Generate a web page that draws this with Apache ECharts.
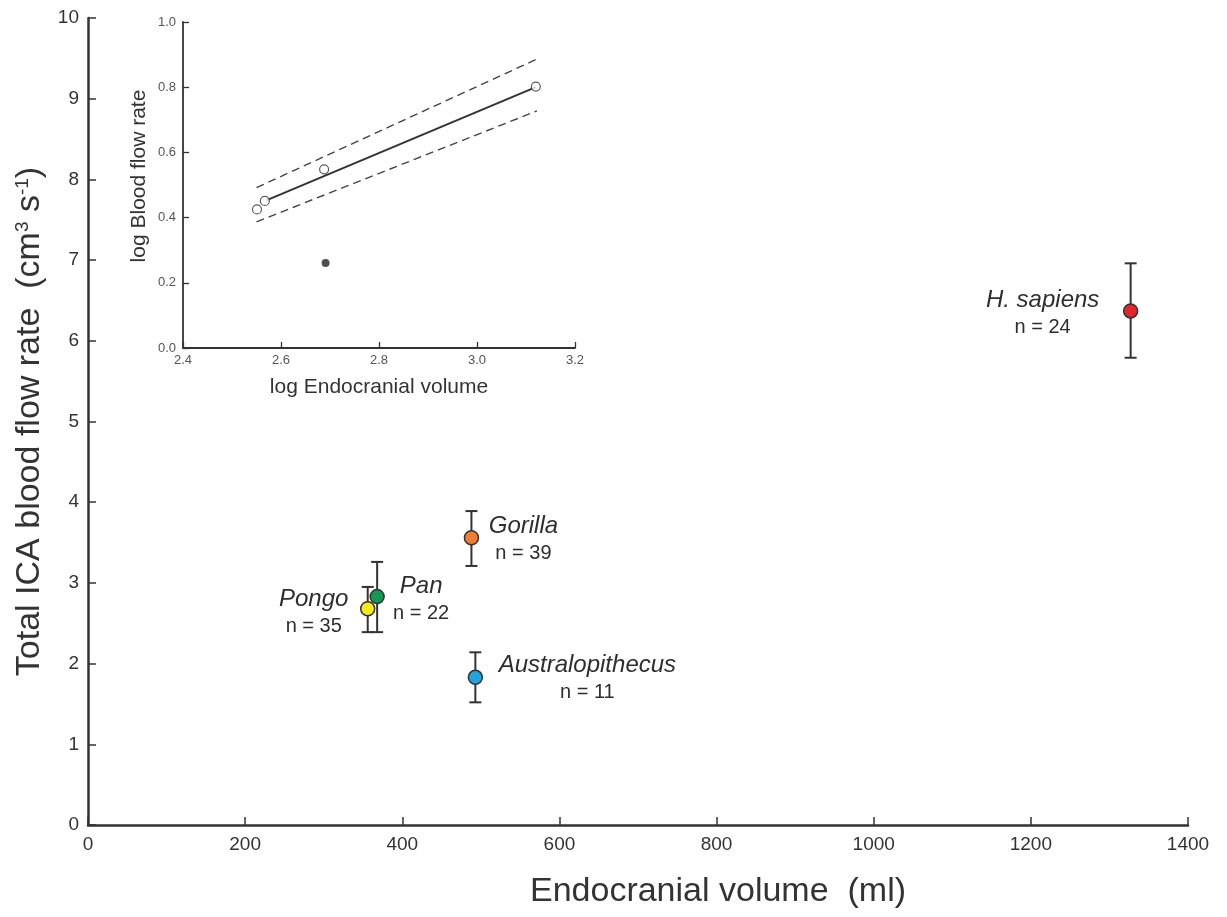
<!DOCTYPE html>
<html lang="en">
<head>
    <meta charset="UTF-8">
    <title>ICA blood flow vs endocranial volume</title>
    <script src="https://cdn.jsdelivr.net/npm/echarts@6/dist/echarts.min.js"></script>
    <style>
        body, html {
            margin: 0;
            padding: 0;
            background: #fff;
        }
        #chart {
            width: 1227px;
            height: 917px;
        }
    </style>
</head>
<body>
<div id="chart"></div>
<script>
    // main panel: species means with error bars
    const species = ['H. sapiens', 'Gorilla', 'Pan', 'Pongo', 'Australopithecus'];
    const sampleN = [24, 39, 22, 35, 11];
    const volume = [1327, 488, 368, 356, 493];
    const flowMean = [6.37, 3.56, 2.83, 2.68, 1.83];
    const flowLow = [5.79, 3.21, 2.39, 2.39, 1.52];
    const flowHigh = [6.96, 3.89, 3.26, 2.95, 2.14];
    const speciesColors = ['#e3262b', '#f07f33', '#119a50', '#f4ea1c', '#21a3de'];
    const labelOffsets = [[-88, 3], [52, 2], [44, 3], [-54, 4], [112, 2]];

    // inset: log-log regression
    const logVolOpen = [2.551, 2.567, 2.688, 3.120];
    const logFlowOpen = [0.425, 0.451, 0.548, 0.802];
    const logVolFilled = [2.691];
    const logFlowFilled = [0.261];
    const fitX = [2.57, 3.12];
    const fitY = [0.453, 0.800];
    const upperX = [2.55, 3.122];
    const upperY = [0.492, 0.886];
    const lowerX = [2.55, 3.122];
    const lowerY = [0.387, 0.727];

    const ink = '#333';
    const sans = '"Liberation Sans", Arial, sans-serif';

    const pairs = (xs, ys) => xs.map((x, i) => [x, ys[i]]);

    const chart = echarts.init(document.getElementById('chart'));
    const option = {
        animation: false,
        backgroundColor: '#fff',
        grid: [
            {left: 88, right: 39, top: 18, bottom: 92},
            {left: 183, top: 22, width: 392, height: 326}
        ],
        xAxis: [
            {
                gridIndex: 0, type: 'value', min: 0, max: 1400, interval: 200,
                name: 'Endocranial volume  (ml)', nameLocation: 'middle', nameGap: 50,
                nameTextStyle: {fontFamily: sans, fontSize: 34, color: ink, padding: [0, 0, 0, 160]},
                axisLine: {show: true, onZero: false, lineStyle: {color: ink, width: 2.5}},
                axisTick: {show: true, inside: true, length: 8, lineStyle: {color: ink, width: 1.5}},
                axisLabel: {fontFamily: sans, fontSize: 19, color: ink, margin: 10, formatter: v => String(v)},
                splitLine: {show: false}
            },
            {
                gridIndex: 1, type: 'value', min: 2.4, max: 3.2, interval: 0.2,
                name: 'log Endocranial volume', nameLocation: 'middle', nameGap: 29,
                nameTextStyle: {fontFamily: sans, fontSize: 21, color: ink},
                axisLine: {show: true, onZero: false, lineStyle: {color: ink, width: 1.8}},
                axisTick: {show: true, inside: true, length: 6, lineStyle: {color: ink, width: 1.3}},
                axisLabel: {fontFamily: sans, fontSize: 13, color: '#555', margin: 6,
                    formatter: v => v.toFixed(1)},
                splitLine: {show: false}
            }
        ],
        yAxis: [
            {
                gridIndex: 0, type: 'value', min: 0, max: 10, interval: 1,
                name: 'Total ICA blood flow rate  (cm{sup|3} s{sup|-1})', nameLocation: 'middle', nameGap: 41,
                nameTextStyle: {
                    fontFamily: sans, fontSize: 34, color: ink,
                    rich: {sup: {fontFamily: sans, fontSize: 19, color: ink, verticalAlign: 'top', padding: [0, 0, 14, 0]}}
                },
                axisLine: {show: true, onZero: false, lineStyle: {color: ink, width: 2.5}},
                axisTick: {show: true, inside: true, length: 8, lineStyle: {color: ink, width: 1.5}},
                axisLabel: {fontFamily: sans, fontSize: 19, color: ink, margin: 9},
                splitLine: {show: false}
            },
            {
                gridIndex: 1, type: 'value', min: 0, max: 1, interval: 0.2,
                name: 'log Blood flow rate', nameLocation: 'middle', nameGap: 33,
                nameTextStyle: {fontFamily: sans, fontSize: 21, color: ink, padding: [0, 0, 0, 18]},
                axisLine: {show: true, onZero: false, lineStyle: {color: ink, width: 1.8}},
                axisTick: {show: true, inside: true, length: 6, lineStyle: {color: ink, width: 1.3}},
                axisLabel: {fontFamily: sans, fontSize: 13, color: '#555', margin: 7,
                    formatter: v => v.toFixed(1)},
                splitLine: {show: false}
            }
        ],
        series: [
            {
                // error bars
                type: 'custom',
                xAxisIndex: 0, yAxisIndex: 0,
                data: volume.map((v, i) => [v, flowLow[i], flowHigh[i]]),
                renderItem: (params, api) => {
                    const lo = api.coord([api.value(0), api.value(1)]);
                    const hi = api.coord([api.value(0), api.value(2)]);
                    const cap = 6;
                    const style = {stroke: ink, lineWidth: 2};
                    return {
                        type: 'group',
                        children: [
                            {type: 'line', shape: {x1: lo[0], y1: lo[1], x2: hi[0], y2: hi[1]}, style},
                            {type: 'line', shape: {x1: lo[0] - cap, y1: lo[1], x2: lo[0] + cap, y2: lo[1]}, style},
                            {type: 'line', shape: {x1: hi[0] - cap, y1: hi[1], x2: hi[0] + cap, y2: hi[1]}, style}
                        ]
                    };
                },
                z: 2
            },
            {
                type: 'scatter',
                xAxisIndex: 0, yAxisIndex: 0,
                symbol: 'circle', symbolSize: 14,
                emphasis: {disabled: true},
                data: volume.map((v, i) => ({
                    value: [v, flowMean[i]],
                    itemStyle: {color: speciesColors[i], borderColor: ink, borderWidth: 1.5, opacity: 1},
                    label: {
                        show: true, position: 'inside', offset: labelOffsets[i],
                        align: 'center', verticalAlign: 'middle', color: '#2e2e2e',
                        formatter: `{sp|${species[i]}}\n{n|n = ${sampleN[i]}}`,
                        rich: {
                            sp: {fontFamily: sans, fontStyle: 'italic', fontSize: 24, color: '#2e2e2e', lineHeight: 27, align: 'center'},
                            n: {fontFamily: sans, fontSize: 20, color: '#2e2e2e', lineHeight: 27, align: 'center'}
                        }
                    }
                })),
                z: 3
            },
            {
                type: 'line', xAxisIndex: 1, yAxisIndex: 1,
                data: pairs(fitX, fitY), showSymbol: false,
                lineStyle: {color: ink, width: 2}
            },
            {
                type: 'line', xAxisIndex: 1, yAxisIndex: 1,
                data: pairs(upperX, upperY), showSymbol: false,
                lineStyle: {color: '#444', width: 1.4, type: [8, 5]}
            },
            {
                type: 'line', xAxisIndex: 1, yAxisIndex: 1,
                data: pairs(lowerX, lowerY), showSymbol: false,
                lineStyle: {color: '#444', width: 1.4, type: [8, 5]}
            },
            {
                type: 'scatter', xAxisIndex: 1, yAxisIndex: 1,
                data: pairs(logVolOpen, logFlowOpen),
                symbol: 'circle', symbolSize: 9,
                itemStyle: {color: '#fff', borderColor: ink, borderWidth: 1.2},
                z: 4
            },
            {
                type: 'scatter', xAxisIndex: 1, yAxisIndex: 1,
                data: pairs(logVolFilled, logFlowFilled),
                symbol: 'circle', symbolSize: 8,
                itemStyle: {color: '#222'},
                z: 4
            }
        ]
    };
    chart.setOption(option);
</script>
</body>
</html>
